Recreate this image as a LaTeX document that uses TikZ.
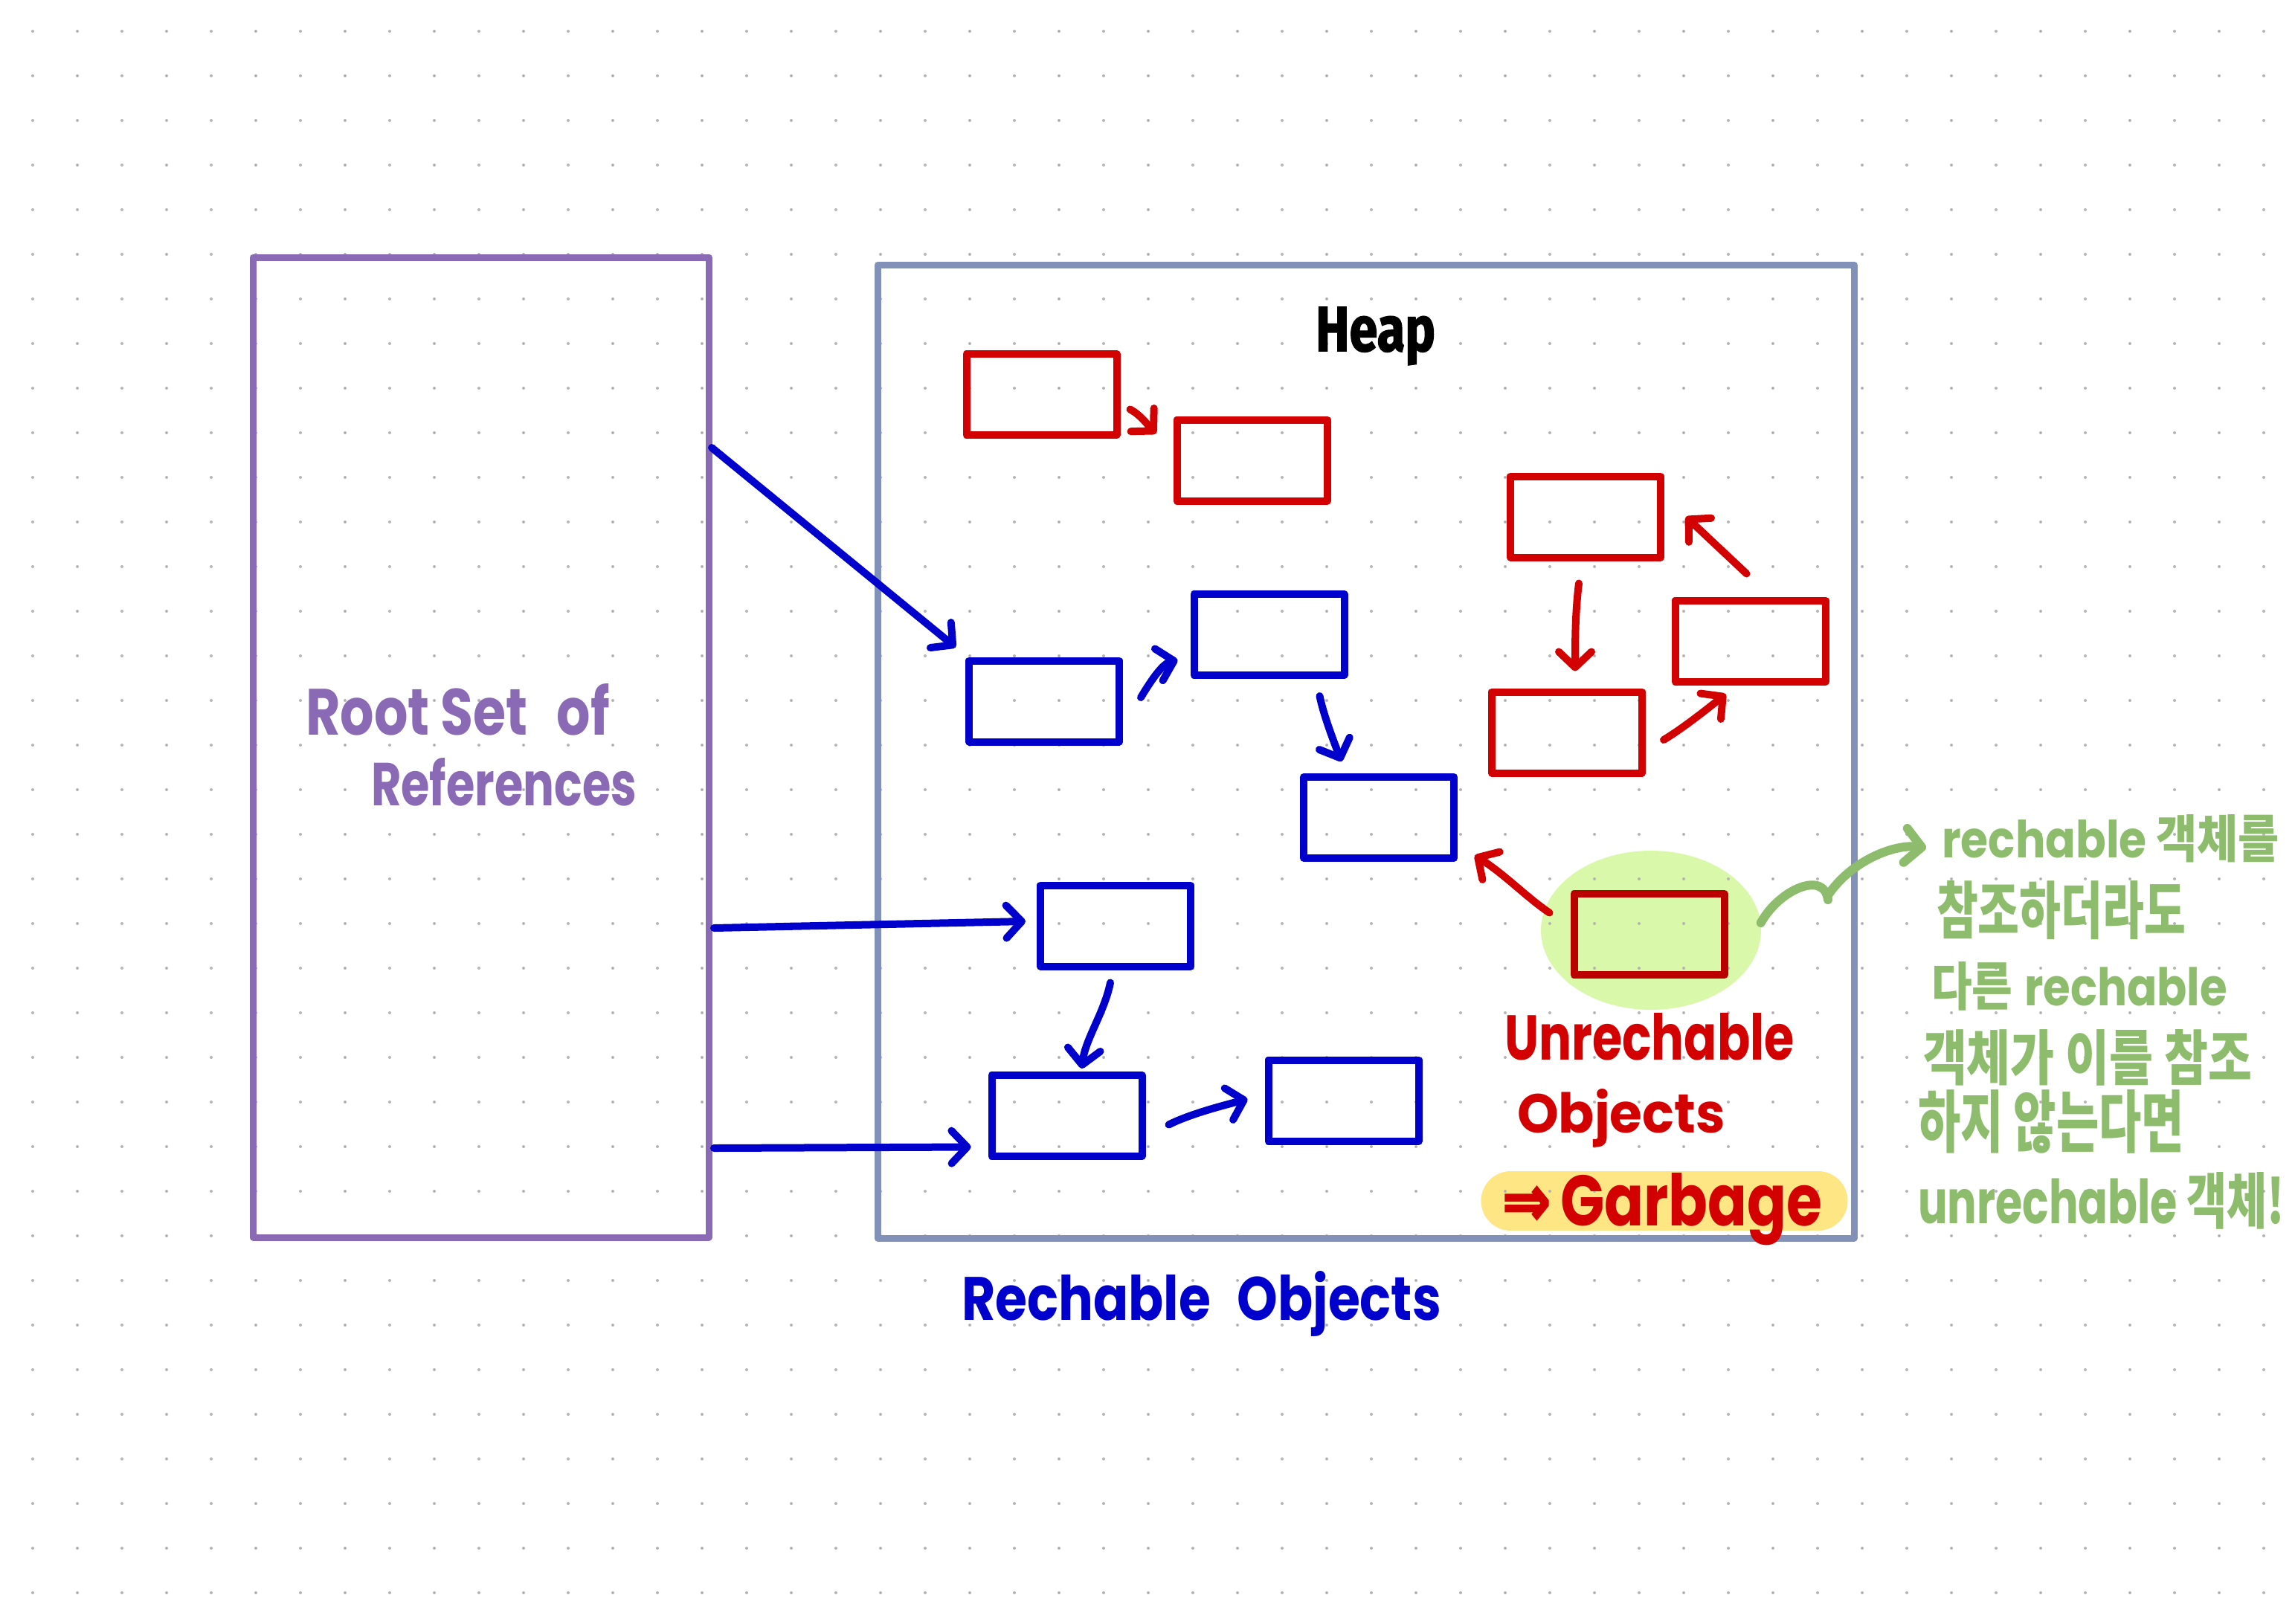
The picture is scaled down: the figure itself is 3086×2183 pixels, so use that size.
\documentclass[tikz,border=0pt]{standalone}
\usepackage{fontspec}
\usepackage{graphicx}
\usetikzlibrary{arrows.meta,shapes.geometric,calc}
\setmainfont{Poppins}
\newfontfamily\cjkfont{Noto Sans CJK KR}
\newfontfamily\firafont{Fira Sans}[FakeBold=2]
\newfontfamily\dvfont{DejaVu Sans}[FakeBold=3]
\definecolor{cpurple}{HTML}{8A6AB4}
\definecolor{cheap}{HTML}{8191B8}
\definecolor{cred}{HTML}{D20000}
\definecolor{cdred}{HTML}{BB0000}
\definecolor{cblue}{HTML}{0000CC}
\definecolor{cgreen}{HTML}{8DBD6C}
\definecolor{cblob}{HTML}{DAF8A9}
\definecolor{cyel}{HTML}{FDE683}
\definecolor{cdot}{HTML}{B4B4B4}
\newcommand{\hwt}[3]{\resizebox{#1mm}{#2mm}{#3}}
\begin{document}
\begin{tikzpicture}[x=0.1mm,y=-0.1mm,
  obj/.style={draw, line width=1mm, minimum width=20.2mm, minimum height=10.9mm, inner sep=0pt, outer sep=0pt, line join=round},
  redobj/.style={obj, draw=cred},
  blueobj/.style={obj, draw=cblue},
  arr/.style={line width=1mm, line cap=round, line join=round, -{Straight Barb[length=2.1mm,width=4.4mm,round]}},
  barr/.style={arr, draw=cblue},
  rarr/.style={arr, draw=cred},
  gline/.style={line width=1.2mm, line cap=round, line join=round, draw=cgreen},
  garr/.style={gline, -{Straight Barb[length=2.2mm,width=4.6mm,round]}},
  hand/.style={inner sep=0pt, outer sep=0pt, anchor=base west},
  bigbox/.style={line width=0.9mm, inner sep=0pt, outer sep=0pt, line join=round}
]
\path[use as bounding box, fill=white] (0,0) rectangle (3086,2183);
% highlights
\node[ellipse, fill=cblob, minimum width=29.6mm, minimum height=21.4mm, inner sep=0pt] (blob) at (2220,1251) {};
\node[fill=cyel, rounded corners=4mm, minimum width=49.3mm, minimum height=8mm, inner sep=0pt] (hl) at (2238,1615) {};
% dot grid
\foreach \i in {0,...,50}{\foreach \j in {0,...,35}{\fill[cdot] ({44+60*\i},{42+60*\j}) circle[radius=2];}}
% big boxes
\node[bigbox, draw=cpurple, minimum width=61.3mm, minimum height=131.8mm] (root) at (646.5,1005) {};
\node[bigbox, draw=cheap, minimum width=131.3mm, minimum height=130.9mm] (heap) at (1836.5,1010.5) {};
% objects
\node[redobj] (r1) at (1400.5,530.5) {};
\node[redobj] (r2) at (1683.5,619) {};
\node[redobj] (r3) at (2132,695) {};
\node[redobj] (r4) at (2353.5,862) {};
\node[redobj] (r5) at (2107,985) {};
\node[obj, draw=cdred] (gb) at (2217.5,1256.5) {};
\node[blueobj] (b1) at (1404,943) {};
\node[blueobj] (b2) at (1706.5,853.5) {};
\node[blueobj] (b3) at (1854,1099.5) {};
\node[blueobj] (b4) at (1500,1245) {};
\node[blueobj] (b5) at (1434.5,1500.5) {};
\node[blueobj] (b6) at (1806.5,1480) {};
% arrows from root set
\draw[barr] ($(root.north east)+(4,256)$) -- ($(b1.north west)+(-18,-18)$);
\draw[barr] ($(root.north east)+(7,902)$) -- ($(b4.west)+(-20,-6)$);
\draw[barr] ($(root.north east)+(7,1198)$) -- ($(b5.west)+(-28,42)$);
% blue arrows
\draw[barr] ($(b1.east)+(29,-5)$) .. controls +(15,-25) and +(-20,5) .. ($(b2.west)+(-22,34)$);
\draw[barr] ($(b2.south)+(68,28)$) .. controls +(5,25) and +(-10,-25) .. ($(b3.north)+(-50,-21)$);
\draw[barr] ($(b4.south)+(-7,22)$) .. controls +(-8,40) and +(5,-40) .. ($(b5.north)+(20,-9)$);
\draw[barr] ($(b5.east)+(36,12)$) .. controls +(30,-15) and +(-30,8) .. ($(b6.west)+(-28,-2)$);
% red arrows
\draw[rarr] ($(r1.east)+(18,20)$) .. controls +(15,8) and +(-10,-10) .. ($(r2.west)+(-28,-36)$);
\draw[rarr] ($(r3.south)+(-9,35)$) .. controls +(-5,40) and +(0,-40) .. ($(r5.north)+(11,-28)$);
\draw[rarr] ($(r5.east)+(29,10)$) .. controls +(25,-15) and +(-25,20) .. ($(r4.south)+(-33,17)$);
\draw[rarr] ($(r4.north)+(-5,-36)$) -- ($(r3.east)+(34,0)$);
\draw[rarr] ($(gb.west)+(-33,-29)$) .. controls +(-30,-20) and +(40,25) .. ($(b3.east)+(28,51)$);
% texts
\node[hand, text=cpurple] (t1) at (411,988) {\hwt{40.9}{6.9}{\bfseries Root Set\hspace{0.55em}of}};
\node[hand, text=cpurple] (t2) at (499,1083) {\hwt{35.7}{6.4}{\bfseries References}};
\node[hand] (heapl) at (1769,472) {\hwt{16.1}{5.9}{\firafont\bfseries Heap}};
\node[hand, text=cblue] (reach) at (1293,1775) {\hwt{64.5}{6.6}{\bfseries Rechable\hspace{0.3em} Objects}};
\node[hand, text=cred] (un1) at (2023,1425) {\hwt{39}{6.3}{\bfseries Unrechable}};
\node[hand, text=cred] (un2) at (2040,1523) {\hwt{28}{5.9}{\bfseries Objects}};
\node[hand, text=cred] (garb) at (2020,1648) {\hwt{43}{7.1}{{\dvfont\bfseries ⇒}\,\bfseries Garbage}};
% green notes
\node[hand, text=cgreen] (g1) at (2611,1153) {\hwt{45.4}{5.8}{\bfseries rechable {\cjkfont\bfseries 객체를}}};
\node[hand, text=cgreen] (g2) at (2604,1255) {\hwt{33.5}{7.1}{\cjkfont\bfseries 참조하더라도}};
\node[hand, text=cgreen] (g3) at (2597,1352) {\hwt{39.8}{5.9}{{\cjkfont\bfseries 다른} \bfseries rechable}};
\node[hand, text=cgreen] (g4) at (2586,1452) {\hwt{44.2}{6.8}{\cjkfont\bfseries 객체가 이를 참조}};
\node[hand, text=cgreen] (g5) at (2579,1542) {\hwt{35.8}{7.7}{\cjkfont\bfseries 하지 않는다면}};
\node[hand, text=cgreen] (g6) at (2579,1645) {\hwt{49.3}{6.9}{\bfseries unrechable {\cjkfont\bfseries 객체!}}};
% green connector
\coordinate (hook) at (2458,1210);
\draw[gline] ($(blob.east)+(-1,-10)$) .. controls +(25,-45) and +(-5,-40) .. (hook);
\draw[garr] ($(hook)+(0,-6)$) .. controls +(30,-45) and +(-45,-5) .. ($(g1.base west)+(-21,-13)$);
\end{tikzpicture}
\end{document}
